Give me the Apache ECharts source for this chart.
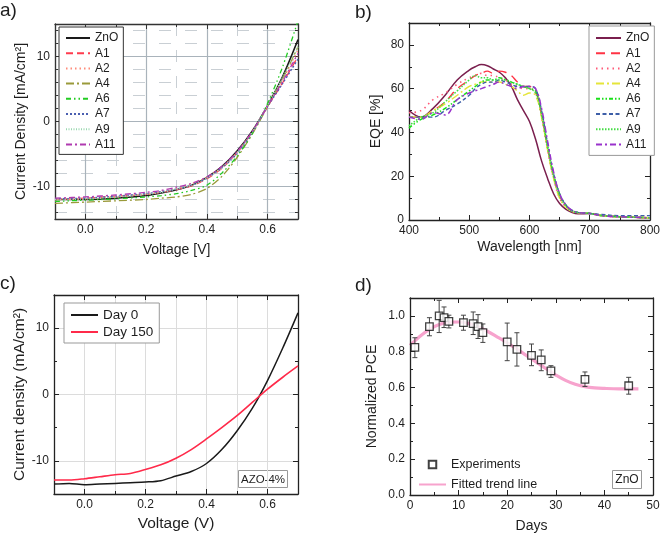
<!DOCTYPE html>
<html><head><meta charset="utf-8">
<script src="https://cdn.jsdelivr.net/npm/echarts@6/dist/echarts.min.js"></script>
<style>html,body{margin:0;padding:0;background:#fff}#c{width:663px;height:536px}</style>
</head><body><div id="c"></div>
<script>
// ---------- Panel a: J-V curves ----------
const voltA = [-0.1, 0, 0.1, 0.2, 0.25, 0.3, 0.35, 0.4, 0.45, 0.5, 0.55, 0.6, 0.65, 0.7];
const jA_ZnO = [-12.0, -12.0, -11.8, -11.4, -11.0, -10.5, -9.8, -8.6, -6.9, -4.5, -1.4, 2.5, 7.0, 12.6];
const jA_A1  = [-12.0, -11.8, -11.5, -11.2, -10.9, -10.5, -9.9, -8.8, -7.2, -4.8, -1.6, 2.3, 6.0, 10.0];
const jA_A2  = [-12.0, -11.9, -11.6, -11.2, -10.8, -10.3, -9.6, -8.6, -7.0, -4.7, -1.5, 2.4, 6.5, 11.0];
const jA_A4  = [-12.6, -12.4, -12.2, -12.0, -11.8, -11.6, -11.2, -10.3, -8.4, -5.5, -1.9, 2.3, 6.6, 11.5];
const jA_A6  = [-12.3, -12.1, -11.9, -11.6, -11.4, -11.1, -10.6, -9.8, -7.9, -5.3, -1.8, 2.8, 8.5, 15.5];
const jA_A7  = [-11.9, -11.8, -11.5, -11.1, -10.8, -10.4, -9.8, -8.7, -7.1, -4.9, -1.6, 2.3, 5.9, 9.6];
const jA_A9  = [-12.0, -11.9, -11.6, -11.2, -10.9, -10.4, -9.8, -8.7, -7.1, -4.8, -1.6, 2.5, 6.8, 11.5];
const jA_A11 = [-11.8, -11.6, -11.3, -10.9, -10.6, -10.1, -9.5, -8.5, -6.9, -4.6, -1.5, 2.4, 6.2, 10.5];
const namesA = ['ZnO', 'A1', 'A2', 'A4', 'A6', 'A7', 'A9', 'A11'];

// ---------- Panel b: EQE ----------
const wl = [400, 420, 440, 460, 480, 500, 510, 520, 530, 540, 550, 560, 570, 580, 590, 600, 610, 620, 630, 640, 650, 660, 670, 680, 700, 720, 750, 800];
const eqe_ZnO = [50, 47, 51, 57, 64, 68.5, 70, 71, 70.5, 69, 67.5, 65, 61, 55, 50, 45, 37, 27, 19, 12, 7.5, 5, 3.5, 2.8, 3, 2, 1.5, 1];
const eqe_A1  = [47, 47, 50, 54, 60, 64, 66, 67, 68, 67, 68, 67.5, 66, 63, 61, 61, 59, 48, 33, 20, 11, 6.5, 4, 3.3, 3, 2, 1.5, 1];
const eqe_A2  = [49, 50, 55, 58, 62, 65, 66, 67, 66, 66, 65, 64, 62, 61, 60, 60, 58, 47, 32, 19, 10, 6, 4, 3.3, 3, 2, 1.5, 1];
const eqe_A4  = [47, 47, 50, 53, 57, 61, 62, 63, 63, 63, 63, 62, 61, 59, 57, 58, 57, 47, 32, 19, 10, 6, 4, 3.3, 3, 2, 1.5, 1];
const eqe_A6  = [42, 46, 48, 51, 55, 59, 61, 63, 64, 64, 65, 64, 63, 62, 61, 60, 59, 49, 34, 21, 12, 7, 4.5, 3.5, 3, 2, 1.5, 1];
const eqe_A7  = [47, 47, 47, 50, 53, 57, 60, 62, 63, 63, 64, 63, 62, 61, 61, 61, 60, 50, 35, 21, 12, 7, 4.5, 3.5, 3, 2.5, 2, 2];
const eqe_A9  = [43, 47, 49, 54, 59, 64, 66, 65, 65, 64, 64, 64, 63, 62, 61, 60, 58, 48, 33, 20, 11, 6.5, 4, 3.3, 3, 2, 1.5, 1];
const eqe_A11 = [47, 46, 49, 48, 55, 58, 59, 60, 61, 62, 63, 62, 61, 60, 61, 61, 60, 51, 36, 22, 12, 7, 4.5, 3.5, 3, 2, 1.5, 1];

// ---------- Panel c: stability J-V ----------
const voltC = [-0.1, -0.05, 0, 0.05, 0.1, 0.15, 0.2, 0.25, 0.3, 0.35, 0.4, 0.45, 0.5, 0.55, 0.6, 0.65, 0.7];
const jDay0   = [-13.5, -13.4, -13.6, -13.5, -13.4, -13.3, -13.2, -13.0, -12.3, -11.6, -10.4, -8.3, -5.5, -2.1, 2.1, 7.0, 12.3];
const jDay150 = [-12.9, -12.9, -12.7, -12.4, -12.1, -11.9, -11.3, -10.6, -9.6, -8.3, -6.7, -5.0, -3.2, -1.2, 0.8, 2.6, 4.3];

// ---------- Panel d: normalized PCE ----------
const dDays = [1, 4, 6, 7, 8, 11, 13, 14, 15, 20, 22, 25, 27, 29, 36, 45];
const dPCE  = [0.824, 0.94, 1.0, 0.99, 0.97, 0.963, 0.957, 0.94, 0.907, 0.855, 0.813, 0.78, 0.754, 0.693, 0.646, 0.61];
const dLo   = [0.767, 0.889, 0.907, 0.935, 0.933, 0.92, 0.896, 0.874, 0.852, 0.75, 0.72, 0.722, 0.694, 0.657, 0.606, 0.563];
const dHi   = [0.878, 0.99, 1.087, 1.05, 1.004, 1.004, 1.022, 1.007, 0.955, 0.96, 0.906, 0.843, 0.81, 0.722, 0.687, 0.657];
const fitDays = [0, 2, 4, 6, 8, 10, 12, 14, 16, 18, 20, 22, 24, 26, 28, 30, 32, 34, 36, 38, 40, 43, 47];
const fitPCE  = [0.835, 0.885, 0.925, 0.952, 0.965, 0.966, 0.958, 0.94, 0.913, 0.882, 0.85, 0.815, 0.778, 0.742, 0.705, 0.67, 0.64, 0.618, 0.605, 0.598, 0.595, 0.593, 0.593];

const FONT = '"Liberation Sans", Arial, sans-serif';
const TXT = '#1e1e1e';

function zip(xs, ys) { return xs.map((x, i) => [x, ys[i]]); }

function axisSet(dim, grid, o) {
  const isX = dim === 'x';
  const p1 = isX ? 'bottom' : 'left', p2 = isX ? 'top' : 'right';
  const lc = o.lineColor || '#222';
  const mk = (pos, step, isMain, isMirror) => {
    const ax = {
      type: 'value', gridIndex: grid, min: o.min, max: o.max, position: pos,
      minInterval: step, maxInterval: step, splitNumber: 5,
      axisLine: { show: isMain, onZero: false, lineStyle: { color: lc, width: 1.3 } },
      axisTick: { show: true, inside: true, length: isMain ? 5 : 3, lineStyle: { color: lc, width: 1 } },
      axisLabel: { show: isMain && !isMirror, showMinLabel: true, showMaxLabel: true,
        fontSize: o.labelSize || 12, fontFamily: FONT, color: TXT, margin: o.labelMargin || 5,
        formatter: (v) => { const k = v / o.major; if (Math.abs(k - Math.round(k)) > 1e-6) return ''; return o.fmt(v); } },
      splitLine: { show: false },
      z: isMain ? 3 : 2
    };
    if (!isMirror) {
      const gs = isMain ? o.gridMajor : o.gridMinor;
      if (gs) ax.splitLine = { show: true, lineStyle: gs };
    }
    if (isMain && !isMirror) {
      ax.name = o.name; ax.nameLocation = 'middle'; ax.nameGap = o.nameGap;
      ax.nameTextStyle = { fontSize: o.nameSize || 14, fontFamily: FONT, color: TXT };
    }
    return ax;
  };
  return [mk(p1, o.major, true, false), mk(p1, o.minor, false, false), mk(p2, o.major, true, true), mk(p2, o.minor, false, true)];
}

const f1 = v => v.toFixed(1), f0 = v => String(Math.round(v));
const gridA_major = { color: '#a9b3bb', width: 1.2, type: 'solid' };
const gridA_minor = { color: '#c9cfd4', width: 1, type: [12, 14] };
const gridC = { color: '#dcdcdc', width: 1, type: 'solid' };

const xAxes = [].concat(
  axisSet('x', 0, { min: -0.1, max: 0.7, major: 0.2, minor: 0.1, fmt: f1, name: 'Voltage [V]', nameGap: 24, gridMajor: gridA_major, gridMinor: gridA_minor, lineColor: '#333' }),
  axisSet('x', 1, { min: 400, max: 800, major: 100, minor: 50, fmt: f0, name: 'Wavelength [nm]', nameGap: 20 }),
  axisSet('x', 2, { min: -0.1, max: 0.7, major: 0.2, minor: 0.1, fmt: f1, name: 'Voltage (V)', nameGap: 22, nameSize: 15.5, gridMajor: gridC, gridMinor: gridC }),
  axisSet('x', 3, { min: 0, max: 50, major: 10, minor: 5, fmt: f0, name: 'Days', nameGap: 24 })
);
const yAxes = [].concat(
  axisSet('y', 0, { min: -15, max: 15, major: 10, minor: 2, fmt: f0, name: 'Current Density [mA/cm²]', nameGap: 27, gridMajor: gridA_major, gridMinor: gridA_minor, lineColor: '#333' }),
  axisSet('y', 1, { min: 0, max: 90, major: 20, minor: 10, fmt: f0, name: 'EQE [%]', nameGap: 26 }),
  axisSet('y', 2, { min: -15, max: 15, major: 10, minor: 5, fmt: f0, name: 'Current density (mA/cm²)', nameGap: 26, nameSize: 15.5, gridMajor: gridC }),
  axisSet('y', 3, { min: 0, max: 1.1, major: 0.2, minor: 0.1, fmt: f1, name: 'Normalized PCE', nameGap: 31 })
);

function line(panel, name, xs, ys, color, type, width, smooth) {
  return { type: 'line', name: name, xAxisIndex: panel * 4, yAxisIndex: panel * 4, data: zip(xs, ys),
    symbol: 'none', showSymbol: false, smooth: smooth || 0, clip: true, z: 3,
    lineStyle: { color: color, type: type, width: width }, itemStyle: { color: color } };
}

const series = [
  line(0, 'a:ZnO', voltA, jA_ZnO, '#1a1a1a', 'solid', 1.5, 0.3),
  line(0, 'a:A1', voltA, jA_A1, '#ff3b4e', [7, 4], 1.3, 0.3),
  line(0, 'a:A2', voltA, jA_A2, '#ff8c7a', [1.5, 3], 1.5, 0.3),
  line(0, 'a:A4', voltA, jA_A4, '#9a9a3a', [8, 3, 2, 3], 1.3, 0.3),
  line(0, 'a:A6', voltA, jA_A6, '#22cc22', [5, 3, 1.5, 3, 1.5, 3], 1.3, 0.3),
  line(0, 'a:A7', voltA, jA_A7, '#4a5fb0', [2, 2], 1.4, 0.3),
  line(0, 'a:A9', voltA, jA_A9, '#9ad8b0', [1, 1.5], 1.5, 0.3),
  line(0, 'a:A11', voltA, jA_A11, '#b03ab0', [6, 3, 2, 3], 1.3, 0.3),

  line(1, 'b:ZnO', wl, eqe_ZnO, '#7a1f4e', 'solid', 1.5, 0.4),
  line(1, 'b:A1', wl, eqe_A1, '#ff3344', [9, 6], 1.4, 0.4),
  line(1, 'b:A2', wl, eqe_A2, '#ff5a78', [1.5, 4], 1.6, 0.4),
  line(1, 'b:A4', wl, eqe_A4, '#e5e53a', [8, 3, 2, 3], 1.5, 0.4),
  line(1, 'b:A6', wl, eqe_A6, '#19e019', [4, 2, 1.5, 2, 1.5, 2], 1.5, 0.4),
  line(1, 'b:A7', wl, eqe_A7, '#3d5fa8', [4, 2.5], 1.4, 0.4),
  line(1, 'b:A9', wl, eqe_A9, '#44dd44', [1.5, 1.5], 1.5, 0.4),
  line(1, 'b:A11', wl, eqe_A11, '#9932cc', [6, 3, 2, 3], 1.5, 0.4),

  line(2, 'Day 0', voltC, jDay0, '#1a1a1a', 'solid', 1.5, 0.3),
  line(2, 'Day 150', voltC, jDay150, '#ff2a4a', 'solid', 1.6, 0.3),

  Object.assign(line(3, 'Fitted trend line', fitDays, fitPCE, '#f7a3cd', 'solid', 3.2, 0.4), { z: 2 }),
  {
    type: 'custom', name: 'errbars', xAxisIndex: 12, yAxisIndex: 12, z: 3,
    data: dDays.map((d, i) => [d, dLo[i], dHi[i]]),
    encode: { x: 0, y: [1, 2] },
    renderItem: function (params, api) {
      const x = api.value(0);
      const pHi = api.coord([x, api.value(2)]);
      const pLo = api.coord([x, api.value(1)]);
      const cw = 2.5;
      const st = { stroke: '#444', lineWidth: 1 };
      return { type: 'group', children: [
        { type: 'line', shape: { x1: pHi[0], y1: pHi[1], x2: pLo[0], y2: pLo[1] }, style: st },
        { type: 'line', shape: { x1: pHi[0] - cw, y1: pHi[1], x2: pHi[0] + cw, y2: pHi[1] }, style: st },
        { type: 'line', shape: { x1: pLo[0] - cw, y1: pLo[1], x2: pLo[0] + cw, y2: pLo[1] }, style: st }
      ] };
    }
  },
  { type: 'scatter', name: 'Experiments', xAxisIndex: 12, yAxisIndex: 12, z: 4,
    data: zip(dDays, dPCE), symbol: 'rect', symbolSize: 7.5,
    itemStyle: { color: '#fff', borderColor: '#111', borderWidth: 1.3 } }
];

const legTxt = { fontSize: 12, fontFamily: FONT, color: TXT };
const noSym = { opacity: 0 };
const legends = [
  { left: 59, top: 27, orient: 'vertical', data: namesA.map(n => 'a:' + n), formatter: n => n.slice(2),
    itemWidth: 24, itemHeight: 10, itemGap: 3.2, padding: [5, 5, 4, 6], borderColor: '#333', borderWidth: 1,
    backgroundColor: '#fff', textStyle: legTxt, selectedMode: false, itemStyle: noSym },
  { left: 589, top: 26, orient: 'vertical', data: namesA.map(n => 'b:' + n), formatter: n => n.slice(2),
    itemWidth: 25, itemHeight: 10, itemGap: 3.2, padding: [6, 5, 5, 6], borderColor: '#999', borderWidth: 1,
    backgroundColor: '#fff', textStyle: legTxt, selectedMode: false, itemStyle: noSym },
  { left: 64, top: 303, orient: 'vertical', data: ['Day 0', 'Day 150'],
    itemWidth: 27, itemHeight: 10, itemGap: 3, padding: [5, 6, 4, 6], borderColor: '#999', borderWidth: 1,
    backgroundColor: '#fff', textStyle: { fontSize: 13.5, fontFamily: FONT, color: TXT }, selectedMode: false, itemStyle: noSym },
  { left: 418, top: 458, orient: 'vertical',
    data: [
      { name: 'Experiments', icon: 'path://M0,0H10V10H0Z' },
      { name: 'Fitted trend line', itemStyle: noSym }
    ],
    itemWidth: 27, itemHeight: 7.5, itemGap: 7, padding: 0,
    textStyle: { fontSize: 12.5, fontFamily: FONT, color: TXT }, selectedMode: false }
];

function label(txt, x, y) {
  return { type: 'text', left: x, top: y, style: { text: txt, font: '19px ' + FONT, fill: TXT } };
}
function box(txt, x, y, w, h, fs) {
  return { type: 'group', left: x, top: y, z: 10, children: [
    { type: 'rect', shape: { x: 0, y: 0, width: w, height: h }, style: { fill: '#fff', stroke: '#999', lineWidth: 1 } },
    { type: 'text', x: w / 2, y: h / 2 + 0.5, style: { text: txt, font: fs + 'px ' + FONT, fill: TXT, align: 'center', verticalAlign: 'middle' } }
  ] };
}

const option = {
  animation: false,
  backgroundColor: '#fff',
  grid: [
    { left: 55, top: 24, width: 243, height: 195 },
    { left: 409, top: 23, width: 246, height: 197 },
    { left: 54, top: 295, width: 244, height: 199 },
    { left: 410, top: 298, width: 243, height: 197 }
  ],
  xAxis: xAxes,
  yAxis: yAxes,
  legend: legends,
  series: series,
  graphic: [
    label('a)', 0, 1), label('b)', 355, 3), label('c)', 0, 274), label('d)', 355, 276),
    box('AZO-4%', 238, 470, 49, 17, 11.5),
    box('ZnO', 612, 470, 29, 18, 12)
  ]
};

const chart = echarts.init(document.getElementById('c'), null, { renderer: 'canvas' });
chart.setOption(option);
</script>
</body></html>
